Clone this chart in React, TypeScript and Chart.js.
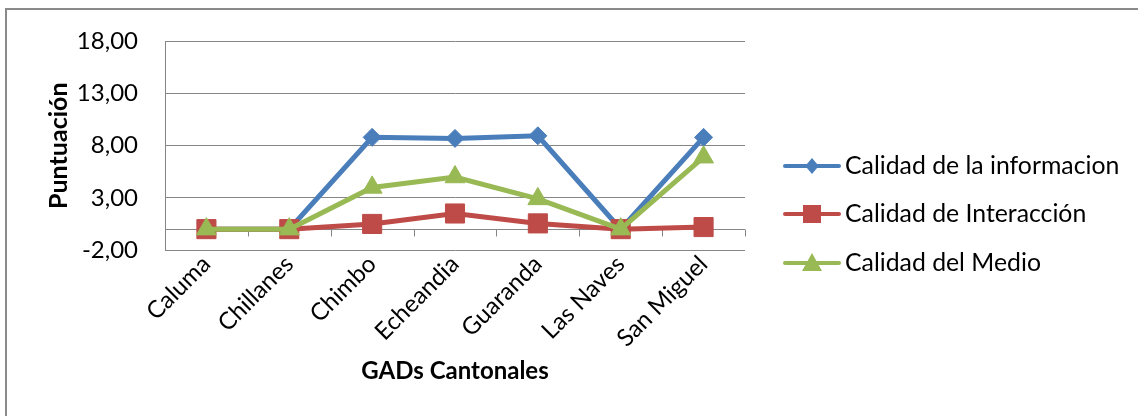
import React, { useEffect, useRef } from 'react';
import { Chart, registerables } from 'chart.js';

Chart.register(...registerables);

const categories = ['Caluma', 'Chillanes', 'Chimbo', 'Echeandia', 'Guaranda', 'Las Naves', 'San Miguel'];
const seriesNames = ['Calidad de la informacion', 'Calidad de Interacción', 'Calidad del Medio'];
const calidadInformacion = [0, 0, 8.8, 8.7, 8.95, 0, 8.8];
const calidadInteraccion = [0, 0, 0.5, 1.5, 0.55, 0, 0.2];
const calidadMedio = [0, 0, 4.0, 5.0, 2.9, 0, 6.9];
const yMin = -2;
const yMax = 18;
const yStep = 5;
const xTitle = 'GADs Cantonales';
const yTitle = 'Puntuación';

const FONT = 'Lato, "Open Sans", sans-serif';
const GRID = '#868686';

function drawMarker(ctx: CanvasRenderingContext2D, style: string, x: number, y: number, r: number, color: string) {
  ctx.save();
  ctx.fillStyle = color;
  ctx.beginPath();
  if (style === 'rectRot') {
    ctx.moveTo(x, y - r);
    ctx.lineTo(x + r * 0.85, y);
    ctx.lineTo(x, y + r);
    ctx.lineTo(x - r * 0.85, y);
  } else if (style === 'rect') {
    ctx.rect(x - r, y - r, 2 * r, 2 * r);
  } else {
    ctx.moveTo(x, y - r);
    ctx.lineTo(x + r, y + r * 0.8);
    ctx.lineTo(x - r, y + r * 0.8);
  }
  ctx.closePath();
  ctx.fill();
  ctx.restore();
}

const decorPlugin = {
  id: 'decor',
  beforeDraw(chart: any) {
    const { ctx } = chart;
    ctx.save();
    ctx.fillStyle = '#8a8a8a';
    ctx.fillRect(5, 8, 2, chart.height);
    ctx.fillRect(5, 8, chart.width, 2);
    ctx.restore();
  },
  beforeDatasetsDraw(chart: any) {
    const { ctx, chartArea, scales } = chart;
    const xs = scales.x;
    const y0 = Math.round(scales.y.getPixelForValue(0)) + 0.5;
    ctx.save();
    ctx.strokeStyle = GRID;
    ctx.lineWidth = 1;
    ctx.beginPath();
    ctx.moveTo(chartArea.left, y0);
    ctx.lineTo(chartArea.right, y0);
    for (let i = 0; i <= categories.length; i++) {
      const x = Math.round(xs.getPixelForValue(i - 0.5)) + 0.5;
      ctx.moveTo(x, y0);
      ctx.lineTo(x, y0 + 7);
    }
    ctx.stroke();
    ctx.restore();
  },
  afterDraw(chart: any) {
    const { ctx, chartArea } = chart;
    const x0 = chartArea.right + 40;
    const rows = [166, 214, 263];
    const sizes = [8, 9, 10];
    chart.data.datasets.forEach((ds: any, i: number) => {
      const y = rows[i];
      ctx.save();
      ctx.strokeStyle = ds.borderColor;
      ctx.lineWidth = 4;
      ctx.lineCap = 'round';
      ctx.beginPath();
      ctx.moveTo(x0, y);
      ctx.lineTo(x0 + 54, y);
      ctx.stroke();
      ctx.restore();
      drawMarker(ctx, ds.pointStyle, x0 + 27, y, sizes[i], ds.borderColor);
      ctx.save();
      ctx.fillStyle = '#000';
      ctx.font = `24.8px ${FONT}`;
      ctx.textBaseline = 'middle';
      ctx.textAlign = 'left';
      ctx.fillText(ds.label, x0 + 60, y);
      ctx.restore();
    });
  },
};

export default function App() {
  const ref = useRef<HTMLCanvasElement | null>(null);
  useEffect(() => {
    if (!ref.current) return;
    const chart = new Chart(ref.current, {
      type: 'line',
      data: {
        labels: categories,
        datasets: [
          {
            label: seriesNames[0],
            data: calidadInformacion,
            borderColor: '#4A7EBB',
            backgroundColor: '#4A7EBB',
            borderWidth: 5,
            pointStyle: 'rectRot',
            pointRadius: 9,
            pointBorderWidth: 1,
            order: 2,
          },
          {
            label: seriesNames[1],
            data: calidadInteraccion,
            borderColor: '#BE4B48',
            backgroundColor: '#BE4B48',
            borderWidth: 5,
            pointStyle: 'rect',
            pointRadius: 13.5,
            pointBorderWidth: 1,
            order: 1,
          },
          {
            label: seriesNames[2],
            data: calidadMedio,
            borderColor: '#98B954',
            backgroundColor: '#98B954',
            borderWidth: 5,
            pointStyle: 'triangle',
            pointRadius: 11.5,
            pointBorderWidth: 1,
            order: 0,
          },
        ],
      },
      options: {
        responsive: false,
        animation: false,
        events: [],
        layout: { padding: { left: 44, right: 393, top: 38, bottom: 30 } },
        plugins: { legend: { display: false }, tooltip: { enabled: false } },
        scales: {
          x: {
            offset: true,
            grid: { display: false, drawTicks: false },
            border: { display: false },
            ticks: {
              minRotation: 45,
              maxRotation: 45,
              autoSkip: false,
              padding: 0,
              color: '#000',
              font: { family: FONT, size: 24 },
            },
            title: {
              display: true,
              text: xTitle,
              color: '#000',
              font: { family: FONT, size: 24, weight: 'bold' },
              padding: 0,
            },
            afterFit: (s: any) => { s.height = 136; },
          },
          y: {
            min: yMin,
            max: yMax,
            grid: { color: GRID, drawTicks: false },
            border: { display: true, color: GRID },
            ticks: {
              stepSize: yStep,
              padding: 27,
              color: '#000',
              font: { family: FONT, size: 24 },
              callback: (v: any) => Number(v).toFixed(2).replace('.', ','),
            },
            title: {
              display: true,
              text: yTitle,
              color: '#000',
              font: { family: FONT, size: 25, weight: 'bold' },
              padding: 0,
            },
            afterFit: (s: any) => { s.width = 121; },
          },
        },
      },
      plugins: [decorPlugin],
    });
    return () => chart.destroy();
  }, []);
  return (
    <div style={{ position: 'absolute', left: 0, top: 0, width: 1138, height: 416, background: '#fff' }}>
      <canvas ref={ref} width={1138} height={416} style={{ display: 'block' }} />
    </div>
  );
}
